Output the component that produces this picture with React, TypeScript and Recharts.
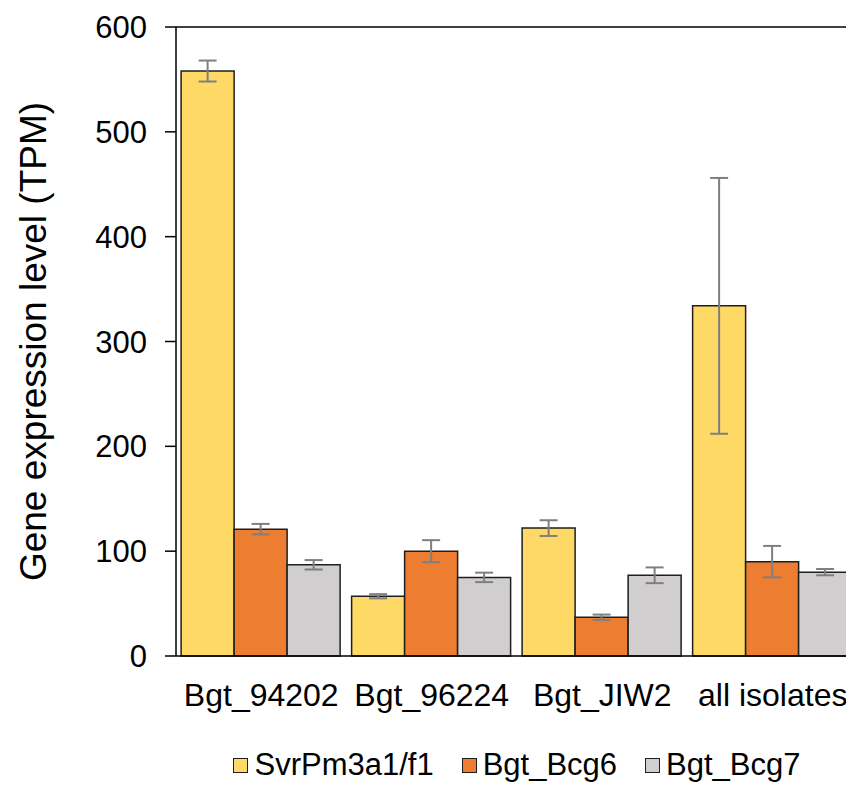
import React from "react";
import {
  Bar,
  BarChart,
  ErrorBar,
  Legend,
  ReferenceLine,
  XAxis,
  YAxis,
} from "recharts";

const isolates = ["Bgt_94202", "Bgt_96224", "Bgt_JIW2", "all isolates"];
const svrValues = [558, 57, 122, 334];
const svrErrors = [10, 2, 7.5, 122];
const bcg6Values = [121, 100, 37, 90];
const bcg6Errors = [5, 10.5, 2.5, 15];
const bcg7Values = [87, 75, 77, 80];
const bcg7Errors = [4.5, 4.5, 7.5, 3];
const yTicks = [0, 100, 200, 300, 400, 500, 600];
const boundaryTicks = [0, 1, 2, 3, 4];

const series = [
  { key: "svr", name: "SvrPm3a1/f1", color: "#FFD966" },
  { key: "bcg6", name: "Bgt_Bcg6", color: "#ED7D31" },
  { key: "bcg7", name: "Bgt_Bcg7", color: "#D0CECE" },
];

const data = isolates.map((name, i) => ({
  name,
  svr: svrValues[i],
  svrErr: svrErrors[i],
  bcg6: bcg6Values[i],
  bcg6Err: bcg6Errors[i],
  bcg7: bcg7Values[i],
  bcg7Err: bcg7Errors[i],
}));

const FONT = "'Liberation Sans', Arial, sans-serif";
const EDGE = "#1f1f1f";

function LegendRow() {
  return (
    <div
      style={{
        display: "flex",
        justifyContent: "center",
        gap: 28,
        marginLeft: 168,
        fontFamily: FONT,
        fontSize: 31,
        lineHeight: "34px",
        color: "#000",
      }}
    >
      {series.map((s) => (
        <div key={s.key} style={{ display: "flex", alignItems: "center" }}>
          <span
            style={{
              width: 13,
              height: 13,
              background: s.color,
              border: `1.5px solid ${EDGE}`,
              marginRight: 6,
              display: "inline-block",
            }}
          />
          {s.name}
        </div>
      ))}
    </div>
  );
}

function YTitle(props: any) {
  const vb = props.viewBox;
  const cx = vb.x + 25;
  const cy = vb.y + vb.height / 2;
  return (
    <text
      x={cx}
      y={cy}
      transform={`rotate(-90 ${cx} ${cy})`}
      textAnchor="middle"
      dominantBaseline="central"
      fontFamily={FONT}
      fontSize={37}
      fill="#000"
    >
      Gene expression level (TPM)
    </text>
  );
}

export default function App() {
  return (
    <div style={{ width: 846, height: 780, overflow: "hidden" }}>
      <BarChart
        width={850}
        height={780}
        data={data}
        margin={{ top: 19, right: 0, bottom: 0, left: 0 }}
        barCategoryGap="3%"
        barGap={0}
      >
        <XAxis
          xAxisId="bounds"
          type="number"
          domain={[0, 4]}
          ticks={boundaryTicks}
          allowDataOverflow
          height={0}
          tick={false}
          tickSize={9}
          axisLine={false}
          tickLine={{ stroke: "#000", strokeWidth: 1.5 }}
        />
        <XAxis
          xAxisId="cat"
          dataKey="name"
          height={92}
          tickLine={false}
          tickSize={0}
          tickMargin={27}
          axisLine={{ stroke: "#000", strokeWidth: 1.5 }}
          tick={{ fontFamily: FONT, fontSize: 32, fill: "#000" }}
          interval={0}
        />
        <YAxis
          width={168}
          domain={[0, 600]}
          ticks={yTicks}
          tickSize={11}
          tickMargin={18}
          axisLine={{ stroke: "#000", strokeWidth: 1.5 }}
          tickLine={{ stroke: "#000", strokeWidth: 1.5 }}
          tick={{ fontFamily: FONT, fontSize: 31, fill: "#000" }}
          label={{ content: YTitle }}
        />
        <ReferenceLine y={600} xAxisId="cat" stroke="#000" strokeWidth={1.5} />
        {series.map((s) => (
          <Bar
            key={s.key}
            xAxisId="cat"
            dataKey={s.key}
            name={s.name}
            fill={s.color}
            stroke={EDGE}
            strokeWidth={1.5}
            isAnimationActive={false}
          >
            <ErrorBar
              dataKey={`${s.key}Err`}
              width={9}
              stroke="#7f7f7f"
              strokeWidth={2}
              direction="y"
            />
          </Bar>
        ))}
        <Legend
          verticalAlign="bottom"
          height={40}
          content={() => <LegendRow />}
        />
      </BarChart>
    </div>
  );
}
